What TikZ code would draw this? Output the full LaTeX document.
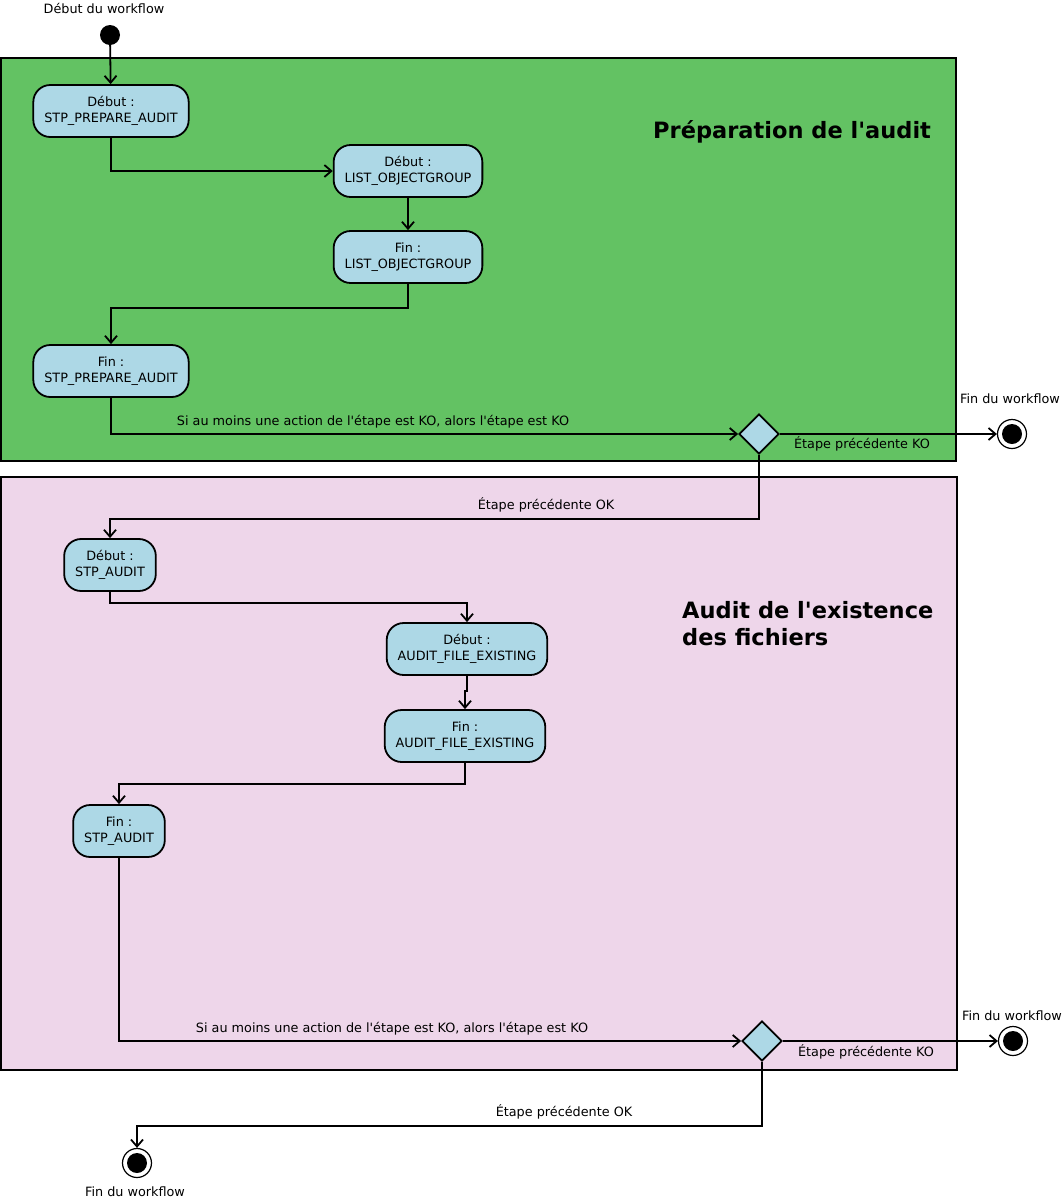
\documentclass[tikz,border=0pt]{standalone}
\usepackage{fontspec}
\newfontfamily\wffont{DejaVu Sans}
\usetikzlibrary{shapes.geometric,arrows.meta}
\definecolor{prepgreen}{RGB}{99,194,99}
\definecolor{auditpink}{RGB}{238,214,234}
\definecolor{actblue}{RGB}{173,216,230}

\begin{document}
\begin{tikzpicture}[
        x=1pt, y=-1pt,
        action/.style={draw, line width=1.8pt, fill=actblue, rounded corners=17pt,
            minimum height=52pt, inner xsep=11pt, inner ysep=0pt, align=center,
            font=\wffont\fontsize{12.8}{16}\selectfont},
        choice/.style={draw, line width=1.8pt, fill=actblue, diamond,
            minimum width=40pt, minimum height=40pt, inner sep=0pt},
        startpt/.style={circle, fill=black, minimum size=20pt, inner sep=0pt},
        endpt/.style={circle, draw, line width=1.2pt, fill=white, minimum size=29pt, inner sep=0pt,
            path picture={\fill[black] (path picture bounding box.center) circle (10pt);}},
        flow/.style={line width=1.8pt, -{Straight Barb[length=7pt,width=12pt,line width=1.8pt]}},
        lbl/.style={inner sep=0pt, font=\wffont\fontsize{12.8}{15}\selectfont},
        heading/.style={inner sep=0pt, align=left, font=\wffont\bfseries\fontsize{22.5}{27}\selectfont}
    ]
    \useasboundingbox (0,0) rectangle (1063,1203);
    \filldraw[fill=prepgreen, line width=1.8pt] (1,58) rectangle (956,461);
    \filldraw[fill=auditpink, line width=1.8pt] (1,477) rectangle (957,1070);

    \node[heading, anchor=west] (prepTitle) at (653,132) {Préparation de l'audit};
    \node[heading, anchor=west] (auditTitle) at (682,624) {Audit de l'existence\\des fichiers};

    \node[lbl] (startLbl) at (104,8) {Début du workflow};
    \node[startpt] (start) at (110,35) {};

    \node[action] (prepDebut) at (111,111) {Début :\\STP\_PREPARE\_AUDIT};
    \node[action] (listDebut) at (408,171) {Début :\\LIST\_OBJECTGROUP};
    \node[action] (listFin) at (408,257) {Fin :\\LIST\_OBJECTGROUP};
    \node[action] (prepFin) at (111,371) {Fin :\\STP\_PREPARE\_AUDIT};
    \node[choice] (choixPrep) at (759,434) {};
    \node[endpt] (finPrep) at (1012,434) {};
    \node[lbl] (finPrepLbl) at (1010,399) {Fin du workflow};
    \node[lbl] (koPrepLbl) at (373,422) {Si au moins une action de l'étape est KO, alors l'étape est KO};
    \node[lbl] (prevKoPrep) at (862,444) {Étape précédente KO};
    \node[lbl] (prevOkPrep) at (546,505) {Étape précédente OK};

    \node[action] (auditDebut) at (110,565) {Début :\\STP\_AUDIT};
    \node[action] (fileDebut) at (467,649) {Début :\\AUDIT\_FILE\_EXISTING};
    \node[action] (fileFin) at (465,736) {Fin :\\AUDIT\_FILE\_EXISTING};
    \node[action] (auditFin) at (119,831) {Fin :\\STP\_AUDIT};
    \node[choice] (choixAudit) at (762,1041) {};
    \node[endpt] (finAudit) at (1013,1041) {};
    \node[lbl] (finAuditLbl) at (1012,1016) {Fin du workflow};
    \node[lbl] (koAuditLbl) at (392,1029) {Si au moins une action de l'étape est KO, alors l'étape est KO};
    \node[lbl] (prevKoAudit) at (866,1052) {Étape précédente KO};
    \node[lbl] (prevOkAudit) at (564,1112) {Étape précédente OK};
    \node[endpt] (finOk) at (137,1163) {};
    \node[lbl] (finOkLbl) at (135,1192) {Fin du workflow};

    \draw[flow] (start) -- (prepDebut);
    \draw[flow] (prepDebut.south) |- (listDebut.west);
    \draw[flow] (listDebut) -- (listFin);
    \draw[flow] (listFin.south) -- ++(0,24) -| (prepFin.north);
    \draw[flow] (prepFin.south) |- (choixPrep.west);
    \draw[flow] (choixPrep.east) -- (finPrep);
    \draw[flow] (choixPrep.south) -- ++(0,64) -| (auditDebut.north);
    \draw[flow] (auditDebut.south) -- ++(0,11) -| (fileDebut.north);
    \draw[flow] (fileDebut.south) -- ++(0,15) -| (fileFin.north);
    \draw[flow] (fileFin.south) -- ++(0,21) -| (auditFin.north);
    \draw[flow] (auditFin.south) |- (choixAudit.west);
    \draw[flow] (choixAudit.east) -- (finAudit);
    \draw[flow] (choixAudit.south) -- ++(0,64) -| (finOk.north);
\end{tikzpicture}
\end{document}
